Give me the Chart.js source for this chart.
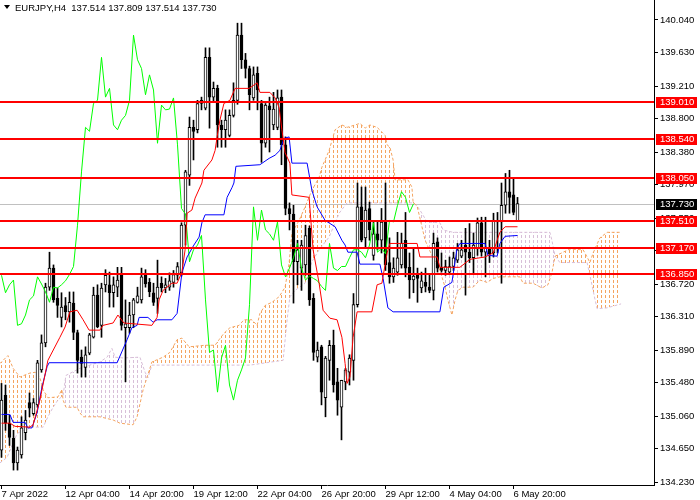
<!DOCTYPE html>
<html>
<head>
<meta charset="utf-8">
<script src="https://cdn.jsdelivr.net/npm/chart.js@4.4.1/dist/chart.umd.min.js"></script>
<style>
  html, body { margin: 0; padding: 0; background: #fff; }
  #wrap { width: 700px; height: 500px; }
</style>
</head>
<body>
<div id="wrap"><canvas id="chart" width="700" height="500"></canvas></div>
<script>
const symbolName = 'EURJPY,H4';

const timeLabels = ['7 Apr 2022', '12 Apr 04:00', '14 Apr 20:00', '19 Apr 12:00', '22 Apr 04:00',
  '26 Apr 20:00', '29 Apr 12:00', '4 May 04:00', '6 May 20:00'];
const timeTickBars = [0, 16, 32, 48, 64, 80, 96, 112, 128];

const priceTicks = [140.040, 139.630, 139.210, 138.800, 138.380, 137.970, 137.550, 137.140,
  136.720, 136.310, 135.890, 135.480, 135.060, 134.650, 134.230];
const levels = [139.010, 138.540, 138.050, 137.510, 137.170, 136.850];
const lastPrice = 137.730;

// H4 candles, oldest first
const opens = [
  134.63, 135.32, 134.97, 134.78, 134.47, 134.57, 134.85, 135.23, 135.09, 135.20,
  135.64, 135.98, 136.68, 136.92, 136.54, 136.30, 136.45, 136.37, 136.48, 136.11,
  135.80, 135.67, 135.85, 136.05, 136.58, 136.20, 136.71, 136.71, 136.61, 136.68,
  136.83, 136.17, 136.17, 136.33, 136.49, 136.52, 136.83, 136.74, 136.61, 136.54,
  136.73, 136.67, 136.68, 136.74, 136.83, 136.86, 137.46, 138.09, 138.69, 138.66,
  138.99, 138.93, 139.57, 139.07, 139.18, 138.72, 138.66, 138.59, 138.84, 139.03,
  139.85, 139.54, 139.43, 139.06, 139.37, 138.99, 138.49, 138.96, 138.72, 138.69,
  139.07, 138.47, 137.67, 137.60, 137.00, 136.92, 136.96, 137.42, 136.54, 135.80,
  135.93, 135.29, 135.76, 135.95, 135.49, 135.17, 135.49, 135.61, 135.76, 136.46,
  137.69, 137.30, 137.67, 137.08, 137.35, 137.27, 137.50, 136.99, 136.81, 136.87,
  136.96, 137.27, 136.93, 136.77, 136.83, 136.67, 136.74, 136.68, 136.64, 137.25,
  136.93, 136.89, 136.87, 136.94, 137.02, 137.07, 137.21, 137.12, 137.05, 137.17,
  137.49, 137.12, 137.18, 137.11, 137.52, 137.50, 137.71, 137.88, 137.84, 137.514
];
const highs = [
  135.47, 135.45, 135.07, 134.88, 134.67, 135.05, 135.13, 135.35, 135.28, 135.76,
  136.08, 136.73, 137.12, 136.96, 136.67, 136.61, 136.55, 136.62, 136.62, 136.14,
  135.89, 135.93, 136.10, 136.68, 136.71, 136.73, 136.90, 136.87, 136.81, 136.93,
  136.93, 136.52, 136.49, 136.54, 136.68, 136.92, 136.90, 136.79, 136.73, 137.02,
  136.81, 136.79, 136.86, 136.89, 136.99, 137.49, 138.15, 138.82, 138.78, 139.03,
  139.07, 139.69, 139.69, 139.26, 139.22, 138.78, 138.91, 138.91, 139.25, 140.00,
  140.00, 139.62, 139.46, 139.45, 139.45, 139.03, 138.99, 139.07, 139.13, 139.16,
  139.16, 138.57, 137.74, 137.71, 137.27, 137.27, 137.46, 137.45, 136.60, 135.99,
  135.95, 135.81, 136.01, 136.14, 135.66, 135.51, 135.66, 135.83, 136.60, 137.99,
  137.94, 137.94, 137.75, 137.52, 137.50, 137.67, 137.99, 137.30, 137.05, 137.37,
  137.36, 137.62, 137.11, 137.18, 136.92, 136.87, 136.92, 136.83, 137.36, 137.30,
  137.11, 137.02, 137.06, 137.12, 137.23, 137.27, 137.42, 137.48, 137.36, 137.55,
  137.56, 137.56, 137.27, 137.61, 137.62, 137.99, 138.11, 138.15, 138.05, 137.809
];
const lows = [
  134.54, 134.88, 134.69, 134.38, 134.38, 134.53, 134.76, 135.05, 135.07, 135.17,
  135.61, 135.93, 136.64, 136.49, 136.30, 136.18, 136.27, 136.24, 136.02, 135.60,
  135.55, 135.55, 135.83, 136.04, 136.17, 136.05, 136.62, 136.43, 136.43, 136.56,
  136.14, 135.49, 136.10, 136.17, 136.48, 136.48, 136.68, 136.56, 136.45, 136.35,
  136.62, 136.61, 136.64, 136.68, 136.77, 136.82, 137.21, 137.96, 138.28, 138.62,
  138.91, 138.91, 138.68, 139.01, 138.44, 138.44, 138.44, 138.57, 138.82, 138.98,
  139.43, 139.31, 138.91, 139.03, 138.91, 138.25, 138.44, 138.38, 138.66, 138.66,
  138.22, 137.59, 137.40, 136.48, 136.71, 136.64, 136.83, 136.45, 135.76, 135.74,
  135.20, 135.05, 135.51, 135.36, 135.07, 134.76, 135.39, 135.45, 135.51, 136.43,
  137.25, 137.18, 137.27, 137.02, 137.15, 137.11, 136.89, 136.73, 136.74, 136.83,
  136.92, 136.81, 136.54, 136.61, 136.49, 136.61, 136.62, 136.61, 136.52, 136.87,
  136.87, 136.83, 136.85, 136.89, 136.99, 137.05, 136.58, 136.99, 136.86, 137.08,
  137.07, 136.81, 136.99, 137.06, 137.11, 136.73, 137.61, 137.61, 137.59, 137.514
];
const closes = [
  135.26, 134.97, 134.79, 134.47, 134.63, 134.91, 135.01, 135.16, 135.23, 135.73,
  135.98, 136.68, 136.92, 136.52, 136.45, 136.43, 136.37, 136.49, 136.11, 135.76,
  135.72, 135.83, 136.08, 136.58, 136.18, 136.67, 136.83, 136.61, 136.71, 136.77,
  136.20, 136.22, 136.33, 136.52, 136.57, 136.81, 136.72, 136.62, 136.49, 136.68,
  136.67, 136.71, 136.76, 136.84, 136.94, 137.46, 138.13, 138.69, 138.64, 138.99,
  139.03, 139.57, 139.07, 139.18, 138.72, 138.66, 138.78, 138.84, 139.03, 139.85,
  139.54, 139.43, 139.10, 139.35, 139.16, 138.49, 138.97, 138.91, 138.92, 139.06,
  138.47, 137.67, 137.60, 137.00, 137.15, 137.21, 137.33, 136.52, 135.86, 135.89,
  135.36, 135.79, 135.95, 135.45, 135.26, 135.51, 135.64, 135.79, 136.46, 137.69,
  137.27, 137.65, 137.40, 137.35, 137.27, 137.50, 136.96, 136.81, 136.92, 137.05,
  137.23, 136.92, 136.77, 136.82, 136.79, 136.76, 136.69, 136.64, 137.23, 136.92,
  136.89, 136.94, 136.94, 137.05, 137.15, 137.15, 137.12, 137.05, 137.21, 137.49,
  137.12, 137.17, 137.10, 137.52, 137.50, 137.71, 137.88, 137.81, 137.62, 137.730
];

// Ichimoku lines, read at their turning points (bar index, price)
const tenkanBars = [0, 2.1, 3.4, 7.1, 7.9, 9.6, 11.6, 14.6, 15.9, 17.1, 18.9, 20.4, 21.9, 24.6, 25.4,
  27.9, 29.1, 30.6, 37.6, 38.9, 39.4, 40.4, 42.6, 43.9, 45.1, 45.9, 46.4, 47.6, 48.4, 50.1, 50.6, 52.6,
  53.4, 53.9, 54.6, 55.6, 57.1, 58.4, 61.9, 63.9, 64.6, 67.1, 68.4, 69.4, 70.1, 70.9, 72.1, 72.6, 76.9,
  77.9, 79.4, 80.4, 82.1, 83.9, 85.1, 85.9, 86.4, 87.1, 87.9, 88.9, 92.6, 93.9, 95.1, 96.4, 97.1, 103.9,
  104.6, 108.9, 109.6, 114.6, 117.1, 120.9, 122.9, 123.9, 124.6, 125.9, 129];
const tenkanVals = [134.97, 134.97, 134.93, 134.92, 134.95, 135.26, 135.76, 136.05, 136.18, 136.37,
  136.39, 136.27, 136.14, 136.14, 136.20, 136.23, 136.33, 136.23, 136.20, 136.30, 136.52, 136.64, 136.73,
  136.73, 136.87, 137.15, 137.61, 137.65, 137.80, 137.99, 138.15, 138.28, 138.40, 138.57, 138.78, 138.99,
  139.03, 139.18, 139.18, 139.25, 139.13, 139.13, 139.06, 138.94, 138.66, 138.37, 138.24, 137.84, 137.81,
  137.15, 136.73, 136.39, 136.29, 136.27, 136.05, 135.72, 135.47, 135.55, 136.05, 136.37, 136.37, 136.71,
  136.73, 137.11, 137.23, 137.23, 137.06, 137.06, 136.93, 136.93, 137.03, 137.06, 137.11, 137.27, 137.37,
  137.44, 137.44];

const kijunBars = [0, 2.1, 2.9, 5.9, 6.6, 7.6, 8.9, 10.1, 11.4, 11.9, 28.9, 31.4, 32.6, 33.9, 34.4,
  36.6, 37.9, 38.9, 42.6, 43.9, 45.1, 46.4, 48.1, 49.4, 50.1, 50.9, 55.6, 56.4, 57.6, 58.1, 58.6, 64.6,
  66.9, 68.4, 69.6, 70.6, 71.9, 72.6, 76.4, 77.6, 78.9, 80.9, 83.4, 85.1, 85.9, 86.6, 88.9, 89.6, 94.6,
  95.4, 96.6, 97.9, 109.6, 110.6, 112.6, 113.9, 114.6, 120.9, 121.6, 123.9, 124.6, 125.9, 129];
const kijunVals = [135.08, 135.08, 134.98, 134.98, 134.91, 134.91, 135.10, 135.42, 135.68, 135.73,
  135.73, 136.02, 136.17, 136.20, 136.30, 136.30, 136.24, 136.27, 136.27, 136.35, 136.86, 137.06, 137.21,
  137.31, 137.49, 137.59, 137.59, 137.81, 137.93, 137.99, 138.20, 138.22, 138.30, 138.34, 138.40, 138.55,
  138.57, 138.24, 138.24, 137.90, 137.69, 137.52, 137.44, 137.27, 137.21, 137.12, 137.12, 136.97, 136.97,
  136.79, 136.42, 136.37, 136.37, 136.68, 136.74, 137.17, 137.23, 137.23, 137.08, 137.07, 137.23, 137.32,
  137.33];

const spanABars = [-0.4, 1.6, 2.9, 4.6, 7.1, 8.4, 9.6, 10.4, 11.6, 14.1, 15.1, 15.4, 16.1, 18.9, 19.6,
  20.4, 24.6, 27.9, 29.6, 32.9, 33.9, 35.4, 36.4, 37.6, 40.4, 42.1, 43.9, 45.1, 46.9, 50.9, 53.4, 54.4,
  55.6, 57.1, 59.4, 60.6, 62.6, 63.9, 64.6, 65.9, 67.6, 69.4, 70.9, 71.9, 72.6, 74.4, 75.9, 77.6, 79.4,
  80.1, 80.9, 81.9, 83.4, 85.1, 86.4, 88.4, 89.6, 90.9, 92.1, 93.9, 95.1, 95.9, 96.4, 97.1, 97.9, 98.4,
  101.6, 102.6, 102.9, 103.9, 105.9, 107.6, 109.6, 110.9, 111.6, 112.6, 113.4, 114.1, 115.4, 117.9, 119.6,
  121.4, 122.9, 124.6, 129.6, 130.4, 132.9, 135.1, 136.6, 137.6, 138.4, 140.4, 142.1, 145.4, 146.4, 147.1,
  147.9, 149.6, 151.4, 154.9];
const spanAVals = [135.72, 135.82, 135.66, 135.55, 135.60, 135.61, 135.54, 135.39, 135.29, 135.30,
  135.39, 135.26, 135.17, 135.17, 135.10, 135.05, 135.05, 135.01, 134.97, 134.95, 135.05, 135.39, 135.55,
  135.74, 135.80, 135.86, 136.02, 136.04, 135.93, 135.95, 135.95, 136.02, 136.10, 136.17, 136.20, 136.27,
  136.27, 136.20, 136.35, 136.45, 136.49, 136.56, 136.68, 136.98, 137.36, 137.52, 137.69, 137.90, 138.06,
  138.19, 138.28, 138.40, 138.66, 138.72, 138.69, 138.72, 138.74, 138.68, 138.72, 138.69, 138.63, 138.59,
  138.47, 138.44, 138.28, 138.03, 138.03, 137.94, 137.75, 137.70, 137.27, 137.08, 136.89, 136.68, 136.52,
  136.33, 136.52, 136.64, 136.68, 136.68, 136.77, 136.74, 136.79, 136.81, 136.81, 136.73, 136.73, 136.67,
  136.71, 136.86, 137.07, 137.12, 137.16, 137.15, 137.06, 136.99, 137.11, 137.30, 137.37, 137.37];

const spanBBars = [-0.4, 1.4, 2.9, 3.9, 5.4, 7.9, 10.4, 11.6, 12.9, 14.1, 15.4, 16.1, 19.6, 22.1, 24.6,
  26.4, 27.6, 28.4, 30.4, 34.6, 35.9, 36.6, 37.6, 39.6, 62.1, 67.6, 70.4, 71.4, 72.1, 73.4, 75.9, 77.6,
  79.4, 81.9, 84.4, 86.4, 102.9, 103.9, 104.6, 106.4, 109.6, 110.4, 112.9, 137.1, 137.6, 138.4, 139.6,
  146.4, 147.1, 148.4, 148.9, 151.4, 154.9];
const spanBVals = [134.47, 134.54, 134.72, 134.84, 134.88, 134.92, 134.92, 135.05, 135.17, 135.26,
  135.32, 135.57, 135.66, 135.70, 135.74, 135.80, 135.91, 135.80, 135.79, 135.80, 135.61, 135.54, 135.70,
  135.70, 135.70, 135.74, 135.76, 136.27, 136.56, 136.64, 136.73, 137.00, 137.15, 137.31, 137.61, 137.74,
  137.74, 137.70, 137.65, 137.50, 137.49, 137.40, 137.37, 137.37, 137.27, 137.07, 136.99, 136.99, 136.83,
  136.52, 136.41, 136.42, 136.47];

const chikouShift = 26;

const FONT = 'Liberation Sans';
const KUMO_UP = '#f4a460';
const KUMO_DOWN = '#d8bfd8';
const SPAN_A = 5;
const SPAN_B = 6;

function pts(xs, ys) {
  return xs.map((x, i) => ({ x: x, y: ys[i] }));
}

// pixel y of a drawn span line at pixel x, taken from the chart's own line element
function lineY(el, px) {
  const p = el.points;
  for (let i = 1; i < p.length; i++) {
    if (px <= p[i].x) {
      const t = (px - p[i - 1].x) / (p[i].x - p[i - 1].x);
      return p[i - 1].y + t * (p[i].y - p[i - 1].y);
    }
  }
  return null;
}

const bodies = opens.map((o, i) => ({ x: i, y: [o, closes[i]] }));
const wicks = lows.map((l, i) => ({ x: i, y: [l, highs[i]] }));
const bodyFill = opens.map((o, i) => closes[i] >= o ? '#ffffff' : '#000000');
const chikou = closes.slice(chikouShift).map((c, k) => ({ x: k, y: c }));

const overlay = {
  id: 'overlay',
  beforeDatasetsDraw(chart) {
    const { ctx, chartArea: a, scales: { x, y } } = chart;
    ctx.save();

    // current price line
    const py = Math.round(y.getPixelForValue(lastPrice));
    ctx.fillStyle = '#c0c0c0';
    ctx.fillRect(a.left, py, a.right - a.left, 1);

    // kumo hatching: one dotted vertical per bar between span A and span B
    const lineA = chart.getDatasetMeta(SPAN_A).dataset;
    const lineB = chart.getDatasetMeta(SPAN_B).dataset;
    const lastBar = Math.floor(spanABars[spanABars.length - 1]);
    for (let k = 0; k <= lastBar; k++) {
      const px = x.getPixelForValue(k);
      const ya = lineY(lineA, px);
      const yb = lineY(lineB, px);
      if (ya === null || yb === null) continue;
      const top = Math.round(Math.min(ya, yb));
      const bot = Math.round(Math.max(ya, yb));
      if (bot - top < 1) continue;
      ctx.fillStyle = ya < yb ? KUMO_UP : KUMO_DOWN;
      const cx = Math.floor(px);
      for (let yy = top - (top % 5); yy < bot; yy += 5) {
        const y0 = Math.max(yy, top);
        const y1 = Math.min(yy + 3, bot);
        if (y1 > y0) ctx.fillRect(cx, y0, 1, y1 - y0);
      }
    }
    ctx.restore();
  },
  afterDatasetsDraw(chart) {
    const { ctx, chartArea: a, scales: { y } } = chart;
    ctx.save();
    ctx.fillStyle = '#ff0000';
    levels.forEach(v => {
      const py = Math.round(y.getPixelForValue(v));
      ctx.fillRect(a.left, py - 1, a.right - a.left, 2);
    });
    ctx.restore();
  },
  afterDraw(chart) {
    const { ctx, chartArea: a, scales: { y } } = chart;
    ctx.save();
    ctx.font = '9.5px "' + FONT + '"';
    ctx.textAlign = 'left';
    ctx.textBaseline = 'middle';
    const box = (v, bg) => {
      const py = Math.round(y.getPixelForValue(v));
      ctx.fillStyle = bg;
      ctx.fillRect(a.right + 2, py - 5, 41, 11);
      ctx.fillStyle = '#ffffff';
      ctx.fillText(v.toFixed(3), a.right + 6, py + 0.5);
    };
    levels.forEach(v => box(v, '#ff0000'));
    box(lastPrice, '#000000');

    // header: symbol and last bar OHLC
    const n = closes.length - 1;
    const title = symbolName + '  ' + [opens[n], highs[n], lows[n], closes[n]].map(v => v.toFixed(3)).join(' ');
    ctx.fillStyle = '#000000';
    ctx.beginPath();
    ctx.moveTo(4, 5);
    ctx.lineTo(10, 5);
    ctx.lineTo(7, 9);
    ctx.closePath();
    ctx.fill();
    ctx.textBaseline = 'alphabetic';
    ctx.fillText(title, 15, 11);
    ctx.restore();
  }
};

new Chart(document.getElementById('chart'), {
  type: 'bar',
  data: {
    datasets: [
      { type: 'line', label: 'Tenkan-sen', data: pts(tenkanBars, tenkanVals), borderColor: '#ff0000',
        borderWidth: 1, pointRadius: 0, tension: 0, order: 1 },
      { type: 'line', label: 'Kijun-sen', data: pts(kijunBars, kijunVals), borderColor: '#0000ff',
        borderWidth: 1, pointRadius: 0, tension: 0, order: 2 },
      { type: 'line', label: 'Chikou Span', data: chikou, borderColor: '#00ff00',
        borderWidth: 1, pointRadius: 0, tension: 0, order: 3 },
      { label: 'Body', data: bodies, backgroundColor: bodyFill, borderColor: '#000000', borderWidth: 1,
        borderSkipped: false, barThickness: 3, minBarLength: 1, grouped: false, order: 4 },
      { label: 'Wick', data: wicks, backgroundColor: '#000000', borderWidth: 0,
        barThickness: 1, minBarLength: 1, grouped: false, order: 5 },
      { type: 'line', label: 'Senkou Span A', data: pts(spanABars, spanAVals), borderColor: KUMO_UP,
        borderWidth: 1, borderDash: [3, 2], pointRadius: 0, tension: 0, fill: false, order: 6 },
      { type: 'line', label: 'Senkou Span B', data: pts(spanBBars, spanBVals), borderColor: KUMO_DOWN,
        borderWidth: 1, borderDash: [3, 2], pointRadius: 0, tension: 0, fill: false, order: 7 }
    ]
  },
  options: {
    responsive: false,
    animation: false,
    devicePixelRatio: 1,
    events: [],
    layout: { padding: 0 },
    plugins: { legend: { display: false }, tooltip: { enabled: false } },
    scales: {
      x: {
        type: 'linear',
        min: -0.375,
        max: 163.125,
        offset: false,
        afterBuildTicks: s => { s.ticks = timeTickBars.map(v => ({ value: v })); },
        afterFit: s => { s.height = 15; s.paddingLeft = 0; s.paddingRight = 0; },
        ticks: {
          autoSkip: false, maxRotation: 0, align: 'start', padding: 0, color: '#000000',
          font: { family: FONT, size: 9.5 },
          callback: (v, i) => timeLabels[i]
        },
        grid: { drawOnChartArea: false, tickLength: 4, color: '#000000', offset: false },
        border: { display: true, color: '#000000' }
      },
      y: {
        type: 'linear',
        position: 'right',
        min: 134.1924,
        max: 140.2915,
        beginAtZero: false,
        afterBuildTicks: s => { s.ticks = priceTicks.map(v => ({ value: v })); },
        afterFit: s => { s.width = 46; s.paddingTop = 0; s.paddingBottom = 0; },
        ticks: {
          autoSkip: false, padding: 2, color: '#000000',
          font: { family: FONT, size: 9.5 },
          callback: v => v.toFixed(3)
        },
        grid: { drawOnChartArea: false, tickLength: 4, color: '#000000' },
        border: { display: true, color: '#000000' }
      }
    }
  },
  plugins: [overlay]
});
</script>
</body>
</html>
